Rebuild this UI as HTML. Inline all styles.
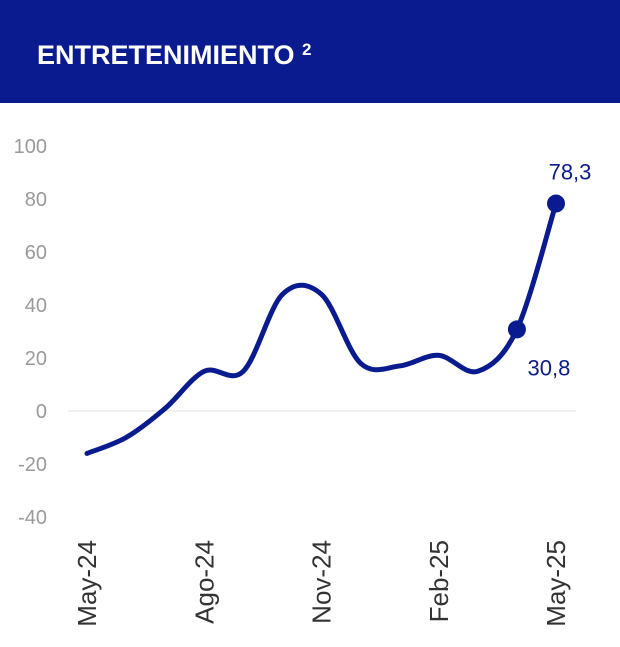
<!DOCTYPE html>
<html><head><meta charset="utf-8"><style>
body{margin:0;width:620px;height:647px;background:#fff;font-family:"Liberation Sans",sans-serif;overflow:hidden}
.hdr{position:absolute;left:0;top:0;width:620px;height:103px;background:#0a1b90}
.hdr span{position:absolute;left:37px;top:40px;color:#fff;font-weight:bold;font-size:27px}
svg{position:absolute;left:0;top:0}
</style></head><body>
<div class="hdr"><span>ENTRETENIMIENTO <sup style="font-size:17px;vertical-align:9px">2</sup></span></div>
<svg id="c" width="620" height="647"></svg>
<script>
const categories=["May-24","Jun-24","Jul-24","Ago-24","Sep-24","Oct-24","Nov-24","Dic-24","Ene-25","Feb-25","Mar-25","Abr-25","May-25"];
const values=[-16,-10,1,15,15,44,44,18,17,21,15,30.8,78.3];
const yTicks=[100,80,60,40,20,0,-20,-40];
const xLabelIdx=[0,3,6,9,12];
const labeledIdx=[11,12];
const svg=document.getElementById('c');
const NS='http://www.w3.org/2000/svg';
const x=i=>87+i*(556-87)/(categories.length-1);
const y=v=>411-v*2.65;
function mk(t,a,txt){const e=document.createElementNS(NS,t);for(const k in a)e.setAttribute(k,a[k]);if(txt!==undefined)e.textContent=txt;svg.appendChild(e);return e;}
yTicks.forEach(t=>{
 const e=mk('text',{x:47,y:y(t)+7,'text-anchor':'end','font-size':'20',fill:'#9a9a9a','font-family':'Liberation Sans, sans-serif'},t);
 
 
});
const zl=mk('line',{x1:68,x2:576,y1:y(0),y2:y(0),stroke:'#ececec','stroke-width':1.5});


xLabelIdx.forEach(i=>{
 const e=mk('text',{transform:`translate(${x(i)+9},${540}) rotate(-90)`,'text-anchor':'end','font-size':'26',fill:'#333','font-family':'Liberation Sans, sans-serif'},categories[i]);
 
 
});
const P=values.map((v,i)=>[x(i),y(v)]);
let d=`M${P[0][0]},${P[0][1]}`;
for(let i=0;i<P.length-1;i++){
 const p0=P[Math.max(i-1,0)],p1=P[i],p2=P[i+1],p3=P[Math.min(i+2,P.length-1)];
 const c1=[p1[0]+(p2[0]-p0[0])/6,p1[1]+(p2[1]-p0[1])/6];
 const c2=[p2[0]-(p3[0]-p1[0])/6,p2[1]-(p3[1]-p1[1])/6];
 d+=` C${c1[0]},${c1[1]} ${c2[0]},${c2[1]} ${p2[0]},${p2[1]}`;
}
const ln=mk('path',{d,fill:'none',stroke:'#0a1b90','stroke-width':5,'stroke-linecap':'round','stroke-linejoin':'round'});


labeledIdx.forEach((i,k)=>{
 const c=mk('circle',{cx:x(i),cy:y(values[i]),r:9,fill:'#0a1b90'});
 
 
 const last=k===labeledIdx.length-1;
 const t=mk('text',{x:x(i)+(last?14:32),y:last?y(values[i])-24:y(values[i])+46,'text-anchor':'middle','font-size':'22',fill:'#0a1b90','font-family':'Liberation Sans, sans-serif'},String(values[i]).replace('.',','));
 
 
});
</script>
</body></html>
